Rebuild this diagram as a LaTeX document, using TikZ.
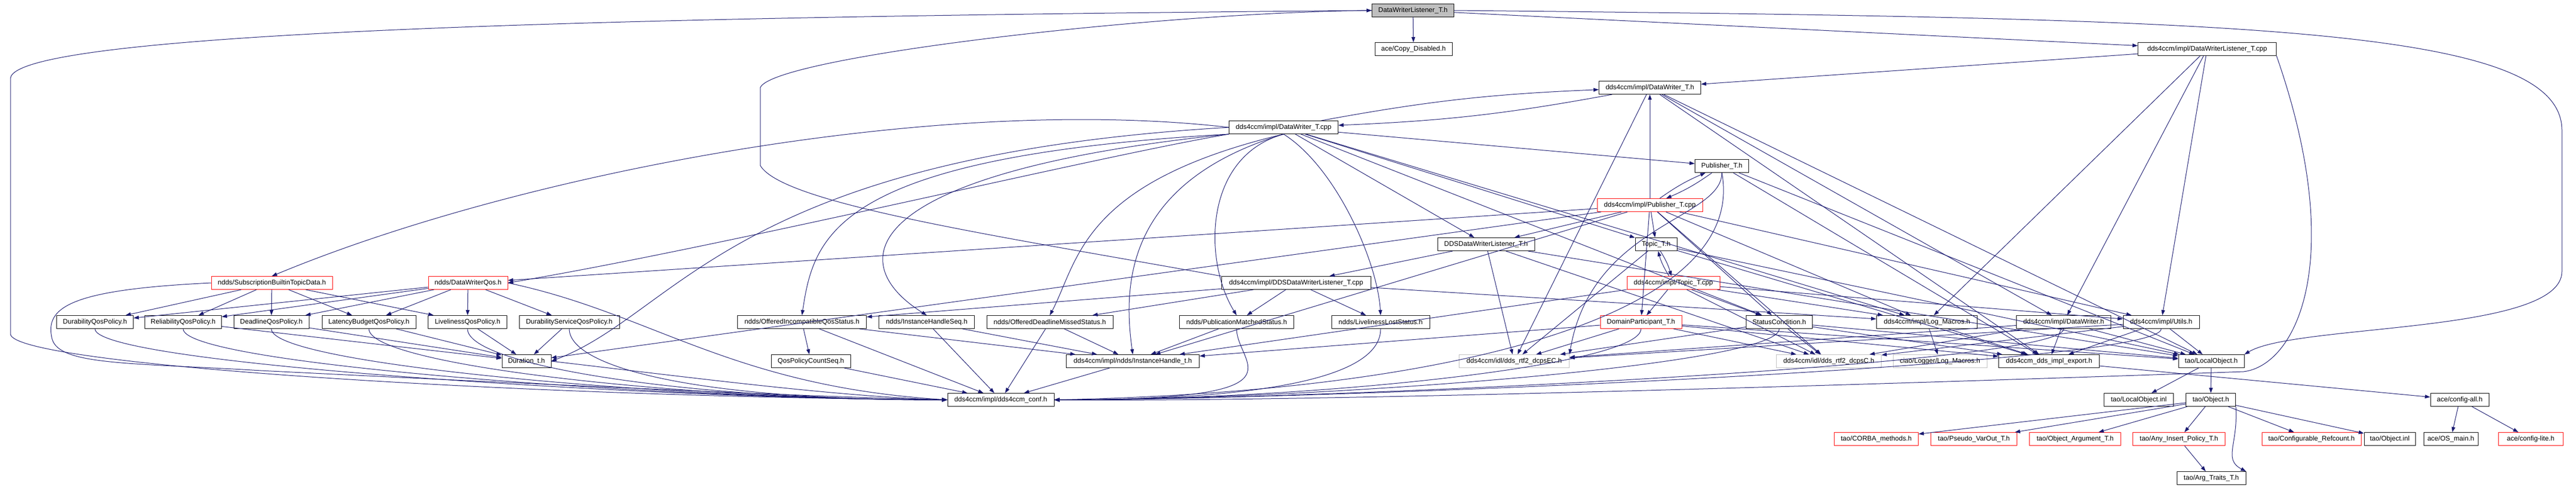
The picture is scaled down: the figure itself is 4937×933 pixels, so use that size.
\documentclass[tikz,border=0pt]{standalone}
\usepackage{fontspec}
\setmainfont{Liberation Sans}
\usetikzlibrary{arrows.meta,calc}
\definecolor{edgec}{HTML}{191970}
\definecolor{gborder}{HTML}{BFBFBF}
\definecolor{topfill}{HTML}{BFBFBF}
\tikzset{
 nb/.style={draw=black,line width=1pt,rectangle,minimum height=25pt,inner xsep=3pt,inner ysep=0pt,font=\fontsize{13}{15}\selectfont,fill=white},
 nred/.style={nb,draw=red},
 ngray/.style={nb,draw=gborder},
 ntop/.style={nb,fill=topfill},
 e/.style={draw=edgec,line width=1pt,-{Triangle[length=10pt,width=7pt]}},
}
\newcommand{\ToConfL}[1]{\draw[e] (#1.south) .. controls ($(#1.south)+(0,70)$) and ($(conf.west)+(-500,0)$) .. (conf.west);}
\newcommand{\ToConfR}[1]{\draw[e] (#1.south) .. controls ($(#1.south)+(0,70)$) and ($(conf.east)+(500,0)$) .. (conf.east);}
\begin{document}
\begin{tikzpicture}[x=1pt,y=-1pt]
\useasboundingbox (0,0) rectangle (4937,933);
\fill[white] (0,0) rectangle (4937,933);
% ---------- nodes ----------
\node[ntop,minimum width=157] (W0) at (2708,20) {DataWriterListener\_T.h};
\node[nb,minimum width=148] (CopyDis) at (2709,94) {ace/Copy\_Disabled.h};
\node[nb,minimum width=265] (DWLcpp) at (4230,94) {dds4ccm/impl/DataWriterListener\_T.cpp};
\node[nb,minimum width=195] (DWTh) at (3162,168) {dds4ccm/impl/DataWriter\_T.h};
\node[nb,minimum width=209] (DWTcpp) at (2460,244) {dds4ccm/impl/DataWriter\_T.cpp};
\node[nb,minimum width=103] (PubTh) at (3300,318) {Publisher\_T.h};
\node[nred,minimum width=202] (PubTcpp) at (3162,393) {dds4ccm/impl/Publisher\_T.cpp};
\node[nb,minimum width=186] (DDSWLh) at (2848,468) {DDSDataWriterListener\_T.h};
\node[nb,minimum width=80] (TopTh) at (3174,468) {Topic\_T.h};
\node[nred,minimum width=232] (SubB) at (521,542) {ndds/SubscriptionBuiltinTopicData.h};
\node[nred,minimum width=152] (DWQos) at (897,542) {ndds/DataWriterQos.h};
\node[nb,minimum width=286] (DDSWLcpp) at (2484,542) {dds4ccm/impl/DDSDataWriterListener\_T.cpp};
\node[nred,minimum width=178] (TopTcpp) at (3207,542) {dds4ccm/impl/Topic\_T.cpp};
\node[nb,minimum width=147] (Dur) at (182,617) {DurabilityQosPolicy.h};
\node[nb,minimum width=147] (Rel) at (351,617) {ReliabilityQosPolicy.h};
\node[nb,minimum width=144] (Dead) at (520,617) {DeadlineQosPolicy.h};
\node[nb,minimum width=180] (Lat) at (707,617) {LatencyBudgetQosPolicy.h};
\node[nb,minimum width=151] (Liv) at (896,617) {LivelinessQosPolicy.h};
\node[nb,minimum width=192] (DurS) at (1091,617) {DurabilityServiceQosPolicy.h};
\node[nb,minimum width=247] (OIQ) at (1537,617) {ndds/OfferedIncompatibleQosStatus.h};
\node[nb,minimum width=183] (IHS) at (1776,617) {ndds/InstanceHandleSeq.h};
\node[nb,minimum width=242] (ODM) at (2012,617) {ndds/OfferedDeadlineMissedStatus.h};
\node[nb,minimum width=219] (PMS) at (2370,617) {ndds/PublicationMatchedStatus.h};
\node[nb,minimum width=188] (LLS) at (2646,617) {ndds/LivelinessLostStatus.h};
\node[nred,minimum width=156] (DomP) at (3145,617) {DomainParticipant\_T.h};
\node[nb,minimum width=127] (SC) at (3410,617) {StatusCondition.h};
\node[nb,minimum width=193] (LogM) at (3693,617) {dds4ccm/impl/Log\_Macros.h};
\node[nb,minimum width=181] (DWh) at (3955,617) {dds4ccm/impl/DataWriter.h};
\node[nb,minimum width=146] (Utl) at (4142,617) {dds4ccm/impl/Utils.h};
\node[nb,minimum width=94] (Durt) at (1009,692) {Duration\_t.h};
\node[nb,minimum width=152] (QPC) at (1554,692) {QosPolicyCountSeq.h};
\node[nb,minimum width=255] (IH) at (2171,692) {dds4ccm/impl/ndds/InstanceHandle\_t.h};
\node[ngray,minimum width=211] (dEC) at (2902,692) {dds4ccm/idl/dds\_rtf2\_dcpsEC.h};
\node[ngray,minimum width=201] (dC) at (3505,692) {dds4ccm/idl/dds\_rtf2\_dcpsC.h};
\node[ngray,minimum width=180] (cLog) at (3718,692) {ciao/Logger/Log\_Macros.h};
\node[nb,minimum width=193] (expo) at (3927,692) {dds4ccm\_dds\_impl\_export.h};
\node[nb,minimum width=126] (LO) at (4238,692) {tao/LocalObject.h};
\node[nb,minimum width=204] (conf) at (1918,766) {dds4ccm/impl/dds4ccm\_conf.h};
\node[nb,minimum width=133] (LOinl) at (4099,766) {tao/LocalObject.inl};
\node[nb,minimum width=95] (Obj) at (4237,766) {tao/Object.h};
\node[nb,minimum width=112] (cfgall) at (4714,766) {ace/config-all.h};
\node[nred,minimum width=161] (CM) at (3596,841) {tao/CORBA\_methods.h};
\node[nred,minimum width=165] (PV) at (3783,841) {tao/Pseudo\_VarOut\_T.h};
\node[nred,minimum width=175] (OA) at (3977,841) {tao/Object\_Argument\_T.h};
\node[nred,minimum width=177] (AIP) at (4176,841) {tao/Any\_Insert\_Policy\_T.h};
\node[nred,minimum width=190] (CR) at (4430,841) {tao/Configurable\_Refcount.h};
\node[nb,minimum width=98] (Oinl) at (4580,841) {tao/Object.inl};
\node[nb,minimum width=104] (OSm) at (4697,841) {ace/OS\_main.h};
\node[nred,minimum width=124] (cfgl) at (4850,841) {ace/config-lite.h};
\node[nb,minimum width=132] (AT) at (4238,916) {tao/Arg\_Traits\_T.h};
% ---------- edges ----------
% top node
\draw[e] (W0) -- (CopyDis);
\draw[e] (W0) -- (DWLcpp);
\draw[e] (W0.west) .. controls (1500,30) and (30,50) .. (20,150) -- (20,640) .. controls (25,700) and (1000,760) .. (conf.west);
\draw[e] (W0.east) .. controls (4300,35) and (4910,50) .. (4910,250) -- (4910,520) .. controls (4910,640) and (4400,620) .. (LO.north east);
% DataWriterListener_T.cpp
\draw[e] (DWLcpp) -- (DWTh);
\draw[e] (DWLcpp) -- (LogM);
\draw[e] (DWLcpp) -- (Utl);
\draw[e] (DWLcpp) -- (DWh);
\draw[e] (DWLcpp.south east) .. controls (4500,500) and (4400,700) .. (4300,712) .. controls (3500,740) and (2500,770) .. (conf.east);
% DataWriter_T.h
\draw[e] (DWTh) to[bend left=4] (DWTcpp);
\draw[e] (DWTh) -- (dEC);
\draw[e] (DWTh) -- (LO);
\draw[e] (DWTh) -- (DWh);
\draw[e] (DWTh) -- (expo);
% DataWriter_T.cpp
\draw[e] (DWTcpp) to[bend left=4] (DWTh);
\draw[e] (DWTcpp.west) .. controls (1800,180) and (1000,330) .. (SubB.north);
\draw[e] (DWTcpp.south west) .. controls (2100,300) and (1400,470) .. (DWQos.east);
\draw[e] (DWTcpp) -- (PubTh);
\draw[e] (DWTcpp) -- (TopTh);
\draw[e] (DWTcpp) -- (DDSWLh);
\draw[e] (DWTcpp) -- (SC);
\draw[e] (DWTcpp) -- (LogM);
\draw[e] (DWTcpp.south west) .. controls (1600,300) and (1560,450) .. (OIQ.north);
\draw[e] (DWTcpp.south west) .. controls (1650,330) and (1610,500) .. (IHS.north);
\draw[e] (DWTcpp.south) .. controls (2070,350) and (2067,500) .. (ODM.north);
\draw[e] (DWTcpp.south) .. controls (2306,300) and (2306,500) .. (PMS.north);
\draw[e] (DWTcpp.south) .. controls (2560,320) and (2640,500) .. (LLS.north);
\draw[e] (DWTcpp.south) .. controls (2153,350) and (2153,550) .. (IH.north);
\draw[e] (DWTcpp.west) .. controls (1400,300) and (1300,600) .. (Durt.east);
% Publisher_T.h
\draw[e] (PubTh) to[bend left=6] (PubTcpp);
\draw[e] (PubTh.south) .. controls (3300,420) and (3050,430) .. (dEC.north east);
\draw[e] (PubTh) -- (LO);
\draw[e] (PubTh) -- (expo);
\draw[e] (PubTh.south) .. controls (3350,600) and (2800,750) .. (conf.east);
% Publisher_T.cpp
\draw[e] (PubTcpp) to[bend left=6] (PubTh);
\draw[e] (PubTcpp) -- (DWTh);
\draw[e] (PubTcpp) -- (DDSWLh);
\draw[e] (PubTcpp) -- (TopTh);
\draw[e] (PubTcpp) -- (DomP);
\draw[e] (PubTcpp) -- (SC);
\draw[e] (PubTcpp) -- (DWQos);
\draw[e] (PubTcpp) -- (Durt);
\draw[e] (PubTcpp) -- (IH);
\draw[e] (PubTcpp) -- (LogM);
\draw[e] (PubTcpp) -- (Utl);
\draw[e] (PubTcpp) -- (dC);
% DDSDataWriterListener_T.h
\draw[e] (DDSWLh) -- (DDSWLcpp);
\draw[e] (DDSWLh) -- (dEC);
\draw[e] (DDSWLh) -- (LO);
\draw[e] (DDSWLh) -- (dC);
% Topic_T.h
\draw[e] (TopTh) to[bend left=8] (TopTcpp);
\draw[e] (TopTh) -- (dEC);
\draw[e] (TopTh) -- (LO);
\draw[e] (TopTh) -- (expo);
% Topic_T.cpp
\draw[e] (TopTcpp) to[bend left=8] (TopTh);
\draw[e] (TopTcpp) -- (DomP);
\draw[e] (TopTcpp) -- (SC);
\draw[e] (TopTcpp) -- (LogM);
\draw[e] (TopTcpp) -- (IH);
\draw[e] (TopTcpp) -- (Utl);
\draw[e] (TopTcpp) -- (dC);
% DDSDataWriterListener_T.cpp
\draw[e] (DDSWLcpp.north west) .. controls (1900,450) and (1500,390) .. (1457,317) -- (1457,168) .. controls (1480,110) and (2200,25) .. (W0.west);
\draw[e] (DDSWLcpp) -- (OIQ);
\draw[e] (DDSWLcpp) -- (ODM);
\draw[e] (DDSWLcpp) -- (PMS);
\draw[e] (DDSWLcpp) -- (LLS);
\draw[e] (DDSWLcpp) -- (LogM);
% SubscriptionBuiltinTopicData.h
\draw[e] (SubB) -- (Dur);
\draw[e] (SubB) -- (Rel);
\draw[e] (SubB) -- (Dead);
\draw[e] (SubB) -- (Lat);
\draw[e] (SubB) -- (Liv);
\draw[e] (SubB.west) .. controls (130,555) and (85,590) .. (100,650) .. controls (115,700) and (250,695) .. (500,710) .. controls (1000,735) and (1600,762) .. (conf.west);
% DataWriterQos.h
\draw[e] (DWQos) -- (Dur);
\draw[e] (DWQos) -- (Rel);
\draw[e] (DWQos) -- (Dead);
\draw[e] (DWQos) -- (Lat);
\draw[e] (DWQos) -- (Liv);
\draw[e] (DWQos) -- (DurS);
\draw[e] (DWQos.east) .. controls (1250,600) and (1400,740) .. (conf.west);
% QoS policies
\draw[e] (Rel) -- (Durt);
\draw[e] (Dead) -- (Durt);
\draw[e] (Lat) -- (Durt);
\draw[e] (Liv) -- (Durt);
\draw[e] (DurS) -- (Durt);
\ToConfL{Dur}
\ToConfL{Rel}
\ToConfL{Dead}
\ToConfL{Lat}
\ToConfL{Liv}
\ToConfL{DurS}
\draw[e] (Durt.east) .. controls (1300,720) and (1600,760) .. (conf.west);
% status headers
\draw[e] (OIQ) -- (QPC);
\draw[e] (OIQ) -- (conf);
\draw[e] (OIQ) -- (IH);
\draw[e] (IHS) -- (IH);
\draw[e] (IHS) -- (conf);
\draw[e] (ODM) -- (IH);
\draw[e] (ODM) -- (conf);
\draw[e] (PMS) -- (IH);
\ToConfR{PMS}
\ToConfR{LLS}
\draw[e] (QPC) -- (conf);
\draw[e] (IH) -- (conf);
% middle right row
\draw[e] (DomP) -- (dEC);
\draw[e] (DomP) -- (dC);
\draw[e] (DomP) -- (expo);
\draw[e] (DomP) -- (LO);
\draw[e] (DomP) -- (IH);
\ToConfR{DomP}
\draw[e] (SC) -- (dEC);
\draw[e] (SC) -- (dC);
\draw[e] (SC) -- (expo);
\draw[e] (SC) -- (LO);
\ToConfR{SC}
\draw[e] (LogM) -- (cLog);
\draw[e] (LogM) -- (expo);
\draw[e] (DWh) -- (dC);
\draw[e] (DWh) -- (dEC);
\draw[e] (DWh) -- (expo);
\draw[e] (DWh) -- (LO);
\ToConfR{DWh}
\draw[e] (Utl) -- (dC);
\draw[e] (Utl) -- (dEC);
\draw[e] (Utl) -- (expo);
\draw[e] (Utl) -- (LO);
\ToConfR{Utl}
\draw[e] (expo) -- (cfgall);
% tao
\draw[e] (LO) -- (LOinl);
\draw[e] (LO) -- (Obj);
\draw[e] (Obj) -- (CM);
\draw[e] (Obj) -- (PV);
\draw[e] (Obj) -- (OA);
\draw[e] (Obj) -- (AIP);
\draw[e] (Obj) -- (CR);
\draw[e] (Obj) -- (Oinl);
\draw[e] (Obj.south east) .. controls (4290,850) and (4260,880) .. (AT.north east);
\draw[e] (AIP) -- (AT);
\draw[e] (cfgall) -- (OSm);
\draw[e] (cfgall) -- (cfgl);
\end{tikzpicture}
\end{document}
